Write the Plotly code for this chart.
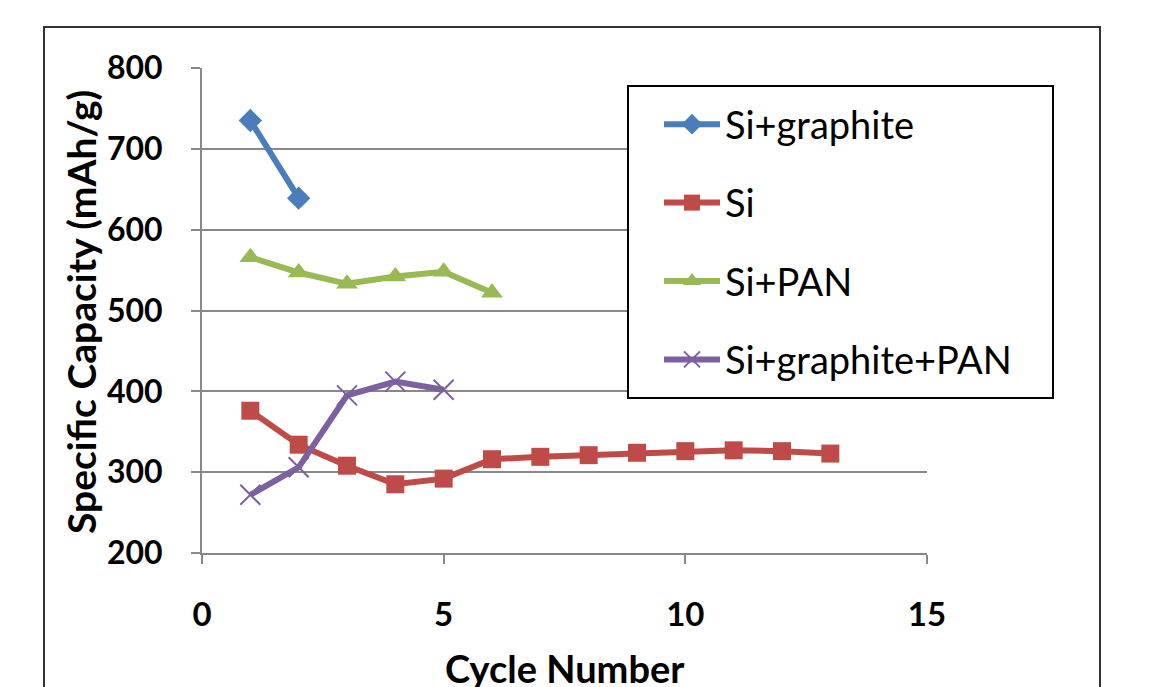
import plotly.graph_objects as go

cycles_sig = [1, 2]
cap_sig = [735, 639]
cycles_si = [1, 2, 3, 4, 5, 6, 7, 8, 9, 10, 11, 12, 13]
cap_si = [376, 334, 308, 285, 292, 316, 319, 321, 324, 326, 327, 326, 323]
cycles_sipan = [1, 2, 3, 4, 5, 6]
cap_sipan = [566, 547, 533, 542, 548, 522]
cycles_sigpan = [1, 2, 3, 4, 5]
cap_sigpan = [272, 306, 395, 412, 402]

names = ["Si+graphite", "Si", "Si+PAN", "Si+graphite+PAN"]
colors = ["#4A7EBB", "#BE4B48", "#98B954", "#7D60A0"]

FONT = "Lato"
PW, PH, L, T = 725, 485, 202, 68


def px(x):
    return (x - L) / PW


def py(y):
    return (T + PH - y) / PH


fig = go.Figure()
series = [
    (cycles_sig, cap_sig, "diamond", 18),
    (cycles_si, cap_si, "square", 18),
    (cycles_sipan, cap_sipan, "triangle-up", 19),
    (cycles_sigpan, cap_sigpan, "x-thin-open", 20),
]
for i, (xs, ys, sym, sz) in enumerate(series):
    marker = dict(symbol=sym, size=sz, color=colors[i])
    if sym == "x-thin-open":
        marker["line"] = dict(color=colors[i], width=2)
    fig.add_trace(go.Scatter(
        x=xs, y=ys, name=names[i], mode="lines+markers",
        line=dict(color=colors[i], width=6),
        marker=marker, legendgroup=names[i],
    ))

fig.update_layout(
    width=1160, height=687,
    margin=dict(l=202, r=233, t=68, b=134),
    paper_bgcolor="white", plot_bgcolor="white",
    font=dict(family=FONT, color="black"),
    showlegend=True,
    legend=dict(
        x=px(659), y=py(93), xanchor="left", yanchor="top",
        borderwidth=0, bgcolor="rgba(0,0,0,0)",
        font=dict(family=FONT, size=38, color="black"),
        tracegroupgap=26, itemwidth=56,
    ),
    xaxis=dict(
        range=[0, 15], tickvals=[0, 5, 10, 15], showgrid=False, zeroline=False,
        showline=True, linecolor="#888888", linewidth=2,
        ticks="outside", ticklen=9, tickwidth=2, tickcolor="#888888",
        tickfont=dict(family=FONT, size=33, weight="bold"),
        ticklabelstandoff=22,
    ),
    yaxis=dict(
        range=[200, 800], tickvals=[200, 300, 400, 500, 600, 700, 800],
        showgrid=True, gridcolor="#888888", gridwidth=2, zeroline=False,
        showline=True, linecolor="#888888", linewidth=2,
        ticks="outside", ticklen=9, tickwidth=2, tickcolor="#888888",
        tickfont=dict(family=FONT, size=32, weight="bold"),
        ticklabelstandoff=22,
    ),
    shapes=[
        dict(type="rect", xref="paper", yref="paper",
             x0=px(44), x1=px(1100), y0=-0.6, y1=py(27),
             line=dict(color="#333333", width=2), fillcolor="rgba(0,0,0,0)", layer="below"),
        dict(type="rect", xref="paper", yref="paper",
             x0=px(628), x1=px(1053), y0=py(398), y1=py(86),
             line=dict(color="black", width=2), fillcolor="white", layer="above"),
    ],
    annotations=[
        dict(text="Cycle Number", xref="paper", yref="paper",
             x=px(565), y=py(668), xanchor="center", yanchor="middle",
             showarrow=False, font=dict(family=FONT, size=38, weight="bold")),
        dict(text="Specific Capacity (mAh/g)", xref="paper", yref="paper",
             x=px(81), y=py(312), xanchor="center", yanchor="middle",
             textangle=-90, showarrow=False, font=dict(family=FONT, size=39, weight="bold")),
    ],
)

fig.write_html("out.html")
